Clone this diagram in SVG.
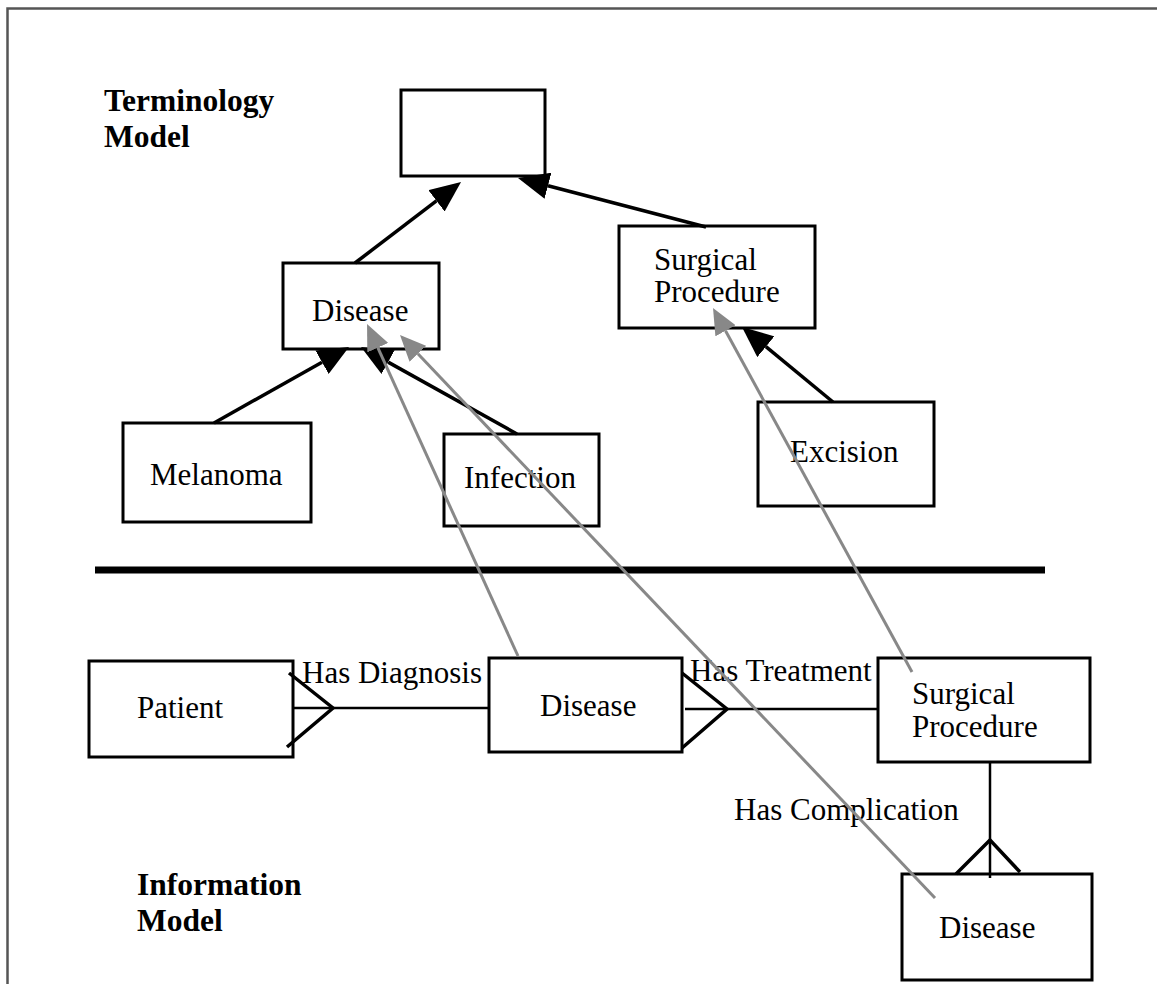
<svg xmlns="http://www.w3.org/2000/svg" width="1157" height="984" viewBox="0 0 1157 984">
  <style>
    .box { fill: #ffffff; stroke: #000000; stroke-width: 3; }
    .lbl { font-family: "Liberation Serif", "Times New Roman", serif; font-size: 31px; fill: #000000; }
    .title { font-family: "Liberation Serif", "Times New Roman", serif; font-size: 31.5px; font-weight: bold; fill: #000000; }
    .isa { stroke: #000000; stroke-width: 3.5; fill: none; marker-end: url(#headBlack); }
    .map { stroke: #888888; stroke-width: 3; fill: none; marker-end: url(#headGray); }
    .rel { stroke: #000000; stroke-width: 2.5; fill: none; }
    .crow { stroke: #000000; stroke-width: 3.5; fill: none; }
  </style>
  <defs>
    <marker id="headBlack" markerUnits="userSpaceOnUse" markerWidth="31" markerHeight="27" refX="0" refY="13.5" orient="auto">
      <path d="M0,0 L31,13.5 L0,27 Z" fill="#000000"/>
    </marker>
    <marker id="headGray" markerUnits="userSpaceOnUse" markerWidth="26" markerHeight="23" refX="0" refY="11.5" orient="auto">
      <path d="M0,0 L26,11.5 L0,23 Z" fill="#888888"/>
    </marker>
  </defs>

  <rect x="0" y="0" width="1157" height="984" fill="#ffffff"/>
  <!-- page frame -->
  <path d="M7.5,984 V8.5 H1157" fill="none" stroke="#555555" stroke-width="2.5"/>

  <!-- section titles -->
  <text class="title" x="104" y="111">Terminology</text>
  <text class="title" x="104" y="147">Model</text>
  <text class="title" x="137" y="895">Information</text>
  <text class="title" x="137" y="931">Model</text>

  <!-- divider between the two models -->
  <line x1="95" y1="570" x2="1045" y2="570" stroke="#000000" stroke-width="7"/>

  <!-- terminology concepts -->
  <g id="root-concept">
    <rect class="box" x="401" y="90" width="144" height="86"/>
  </g>
  <g id="term-disease">
    <rect class="box" x="283" y="263" width="156" height="86"/>
    <text class="lbl" x="312" y="321">Disease</text>
  </g>
  <g id="term-surgical-procedure">
    <rect class="box" x="619" y="226" width="196" height="102"/>
    <text class="lbl" x="654" y="270">Surgical<tspan x="654" y="302">Procedure</tspan></text>
  </g>
  <g id="term-melanoma">
    <rect class="box" x="123" y="423" width="188" height="99"/>
    <text class="lbl" x="150" y="485">Melanoma</text>
  </g>
  <g id="term-infection">
    <rect class="box" x="444" y="434" width="155" height="92"/>
    <text class="lbl" x="464" y="488">Infection</text>
  </g>
  <g id="term-excision">
    <rect class="box" x="758" y="402" width="176" height="104"/>
    <text class="lbl" x="790" y="462">Excision</text>
  </g>

  <!-- information model entities -->
  <g id="info-patient">
    <rect class="box" x="89" y="661" width="204" height="96"/>
    <text class="lbl" x="137" y="718">Patient</text>
  </g>
  <g id="info-disease">
    <rect class="box" x="489" y="658" width="193" height="94"/>
    <text class="lbl" x="540" y="716">Disease</text>
  </g>
  <g id="info-surgical-procedure">
    <rect class="box" x="878" y="658" width="212" height="104"/>
    <text class="lbl" x="912" y="704">Surgical<tspan x="912" y="737">Procedure</tspan></text>
  </g>
  <g id="info-complication-disease">
    <rect class="box" x="902" y="874" width="190" height="106"/>
    <text class="lbl" x="939" y="938">Disease</text>
  </g>

  <g id="connectors">
    <!-- is-a hierarchy -->
    <line class="isa" x1="355" y1="263" x2="436.4" y2="200.8"/>
    <line class="isa" x1="706" y1="227" x2="548" y2="185.8"/>
    <line class="isa" x1="214" y1="423" x2="322" y2="362.2"/>
    <line class="isa" x1="517" y1="434" x2="388.1" y2="362.1"/>
    <line class="isa" x1="833" y1="402" x2="765.9" y2="346.7"/>

    <!-- relationships -->
    <line class="rel" x1="293" y1="708" x2="489" y2="708"/>
    <polyline class="crow" points="289,673 333,708 287,747"/>
    <text class="lbl" x="302" y="683">Has Diagnosis</text>

    <line class="rel" x1="685" y1="709" x2="878" y2="709"/>
    <polyline class="crow" points="682,673 727,709 682,748"/>
    <text class="lbl" x="690" y="681">Has Treatment</text>

    <line class="rel" x1="990" y1="762" x2="990" y2="878" stroke-width="3"/>
    <polyline class="crow" points="956,874 990,840 1020,872"/>
    <text class="lbl" x="734" y="820">Has Complication</text>

    <!-- entity-to-concept bindings -->
    <line class="map" x1="518" y1="656" x2="377.8" y2="347.7"/>
    <line class="map" x1="935" y1="898" x2="417.9" y2="353.8"/>
    <line class="map" x1="912" y1="672" x2="725.5" y2="330.8"/>
  </g>
</svg>
